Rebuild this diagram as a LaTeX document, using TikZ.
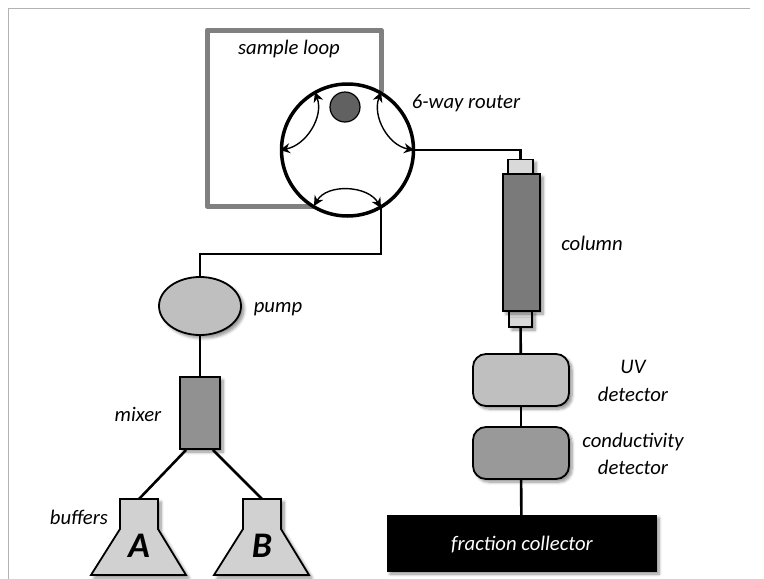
\documentclass[tikz,border=0pt]{standalone}
\usepackage{fontspec}
\setmainfont{Carlito}
\usetikzlibrary{arrows.meta, positioning, shadows.blur, shapes.geometric}

\begin{document}
\begin{tikzpicture}[
    x=1pt, y=-1pt,
    soft/.style={blur shadow={shadow xshift=3pt, shadow yshift=-3pt, shadow blur steps=6, shadow blur radius=3pt, shadow opacity=45}},
    unit/.style={draw, line width=1.8pt, inner sep=0pt, soft},
    device/.style={unit, rectangle, rounded corners=13pt, minimum width=96pt, minimum height=52pt},
    label/.style={font=\itshape\fontsize{20.7}{27.5}\selectfont, align=center},
    pipe/.style={line width=2.6pt},
    valve/.style={<->, >={Stealth[length=10pt, width=10pt]}, line width=1.4pt}
]

\path[use as bounding box] (0,0) rectangle (764,579);

% frame
\draw[gray!60, line width=1pt] (8.5,579) -- (8.5,8.5) -- (750,8.5);

% router
\coordinate (portTL) at (315,92);
\coordinate (portTR) at (381,92);
\coordinate (portL)  at (280,150);
\coordinate (portR)  at (414,150);
\coordinate (portBL) at (314,206);
\coordinate (portBR) at (381,208);
\coordinate (loopA) at (381,30);
\coordinate (loopB) at (207,30);
\coordinate (loopC) at (207,206);

\draw[gray, line width=5pt, line join=round] (portTR) -- (loopA) -- (loopB) -- (loopC) -- (portBL);

\node[draw, circle, line width=3.5pt, fill=white, minimum size=132pt, inner sep=0pt] (router) at (347.5,150) {};
\node[draw, circle, line width=1.2pt, fill=black!62, minimum size=30pt, inner sep=0pt] (plug) at (345,107) {};

\draw[valve] (portTL) to[out=-70, in=10] (portL);
\draw[valve] (portTR) to[out=-110, in=170] (portR);
\draw[valve] (portBL) to[out=60, in=120] (portBR);

% column side
\node[unit, fill=black!15, minimum width=25pt, minimum height=14pt] (capT) at (520.5,166.5) {};
\node[unit, fill=black!15, minimum width=23pt, minimum height=16pt] (capB) at (520.5,319) {};
\node[unit, fill=black!52, minimum width=37pt, minimum height=137pt] (column) at (521.5,242.5) {};
\node[device, fill=black!25] (uv) at (521,380) {};
\node[device, fill=black!40] (cond) at (521,453) {};
\node[draw, fill=black, minimum width=269pt, minimum height=56pt, inner sep=0pt, soft] (collector) at (521.5,543) {};
\node[label, text=white] (collectorlabel) at (522,545) {fraction collector};

\draw[pipe] (portR) -| (capT.north);
\draw[pipe] (capB) -- (uv);
\draw[pipe] (uv) -- (cond);
\draw[pipe] (cond) -- (collector);

% pump side
\node[unit, ellipse, fill=black!25, minimum width=82pt, minimum height=58pt] (pump) at (200,306) {};
\node[unit, fill=black!43, minimum width=40pt, minimum height=72pt] (mixer) at (200,413) {};

\coordinate (bend) at (381,254);
\draw[pipe] (portBR) -- (bend) -| (pump.north);
\draw[pipe] (pump) -- (mixer);

% flasks
\foreach \flask/\xc in {A/139, B/262} {
  \draw[line width=1.8pt, fill=black!18, soft]
    (\xc-19,499) -- (\xc+19,499) -- (\xc+19,529) -- (\xc+47,575) -- (\xc-48,575) -- (\xc-19,529) -- cycle;
  \coordinate (top\flask) at (\xc,499);
  \node[font=\bfseries\itshape\fontsize{36}{40}\selectfont] (flask\flask) at (\xc,546) {\flask};
}
\draw[pipe] (mixer.south west) ++(7,0) coordinate (mixA) -- (topA);
\draw[pipe] (mixer.south east) ++(-8,0) coordinate (mixB) -- (topB);

% labels
\node[label] (looplabel) at (289,49) {sample loop};
\node[label] (routerlabel) at (466,103) {6-way router};
\node[label] (columnlabel) at (592,243) {column};
\node[label] (pumplabel) at (278,309) {pump};
\node[label] (mixerlabel) at (138,414) {mixer};
\node[label] (bufferslabel) at (79,517) {buffers};
\node[label] (uvlabel) at (633,381) {UV\\detector};
\node[label] (condlabel) at (633,454) {conductivity\\detector};

\end{tikzpicture}
\end{document}
